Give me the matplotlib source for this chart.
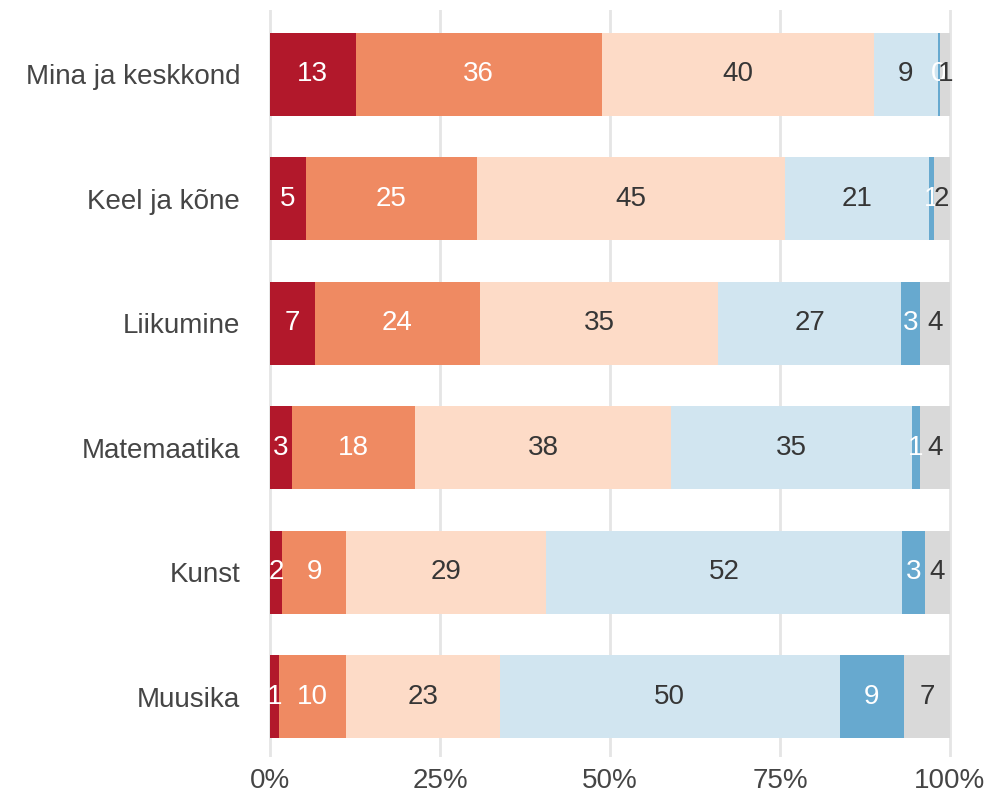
import numpy as np
import matplotlib
matplotlib.use("Agg")
import matplotlib.pyplot as plt

plt.rcParams['font.family'] = ['Liberation Sans', 'DejaVu Sans']

subjects = ["Mina ja keskkond", "Keel ja kõne", "Liikumine", "Matemaatika", "Kunst", "Muusika"]

# shares in percent, one list per answer category (left to right)
cat1 = [12.6, 5.3, 6.6, 3.2, 1.8, 1.3]
cat2 = [36.2, 25.1, 24.3, 18.1, 9.4, 9.9]
cat3 = [40.0, 45.4, 35.0, 37.7, 29.4, 22.6]
cat4 = [9.4, 21.1, 26.9, 35.4, 52.3, 50.0]
cat5 = [0.4, 0.7, 2.8, 1.2, 3.4, 9.4]
cat6 = [1.4, 2.4, 4.4, 4.4, 3.7, 6.8]

colors = ["#b2182b", "#ef8a62", "#fddbc7", "#d1e5f0", "#67a9cf", "#d9d9d9"]
text_colors = ["white", "white", "#363636", "#363636", "white", "#363636"]
ticks = [0, 25, 50, 75, 100]
tick_labels = ["0%", "25%", "50%", "75%", "100%"]

fig = plt.figure(figsize=(9.89, 7.97), dpi=100)
ax = fig.add_axes([265 / 989, 1 - 757 / 797, 690 / 989, 747 / 797])

data = np.array([cat1, cat2, cat3, cat4, cat5, cat6])
y = np.arange(len(subjects))
left = np.zeros(len(subjects))
for k in range(data.shape[0]):
    vals = data[k]
    ax.barh(y, vals, left=left, height=0.667, color=colors[k], zorder=2)
    for i, v in enumerate(vals):
        ax.text(left[i] + v / 2, y[i], "%d" % round(v), ha="center", va="center",
                color=text_colors[k], fontsize=20, zorder=3)
    left += vals

ax.set_xlim(-0.74, 100.74)
ax.set_ylim(5.486, -0.518)
ax.set_xticks(ticks)
ax.set_xticklabels(tick_labels)
ax.set_yticks(y)
ax.set_yticklabels(subjects)
ax.tick_params(axis="both", length=0, labelsize=20, labelcolor="#454545")
ax.tick_params(axis="x", pad=8)
ax.tick_params(axis="y", pad=18)
ax.grid(axis="x", color="#e5e5e5", linewidth=2, zorder=0)
ax.grid(axis="y", visible=False)
for s in ax.spines.values():
    s.set_visible(False)

fig.savefig("out.png", dpi=100)
